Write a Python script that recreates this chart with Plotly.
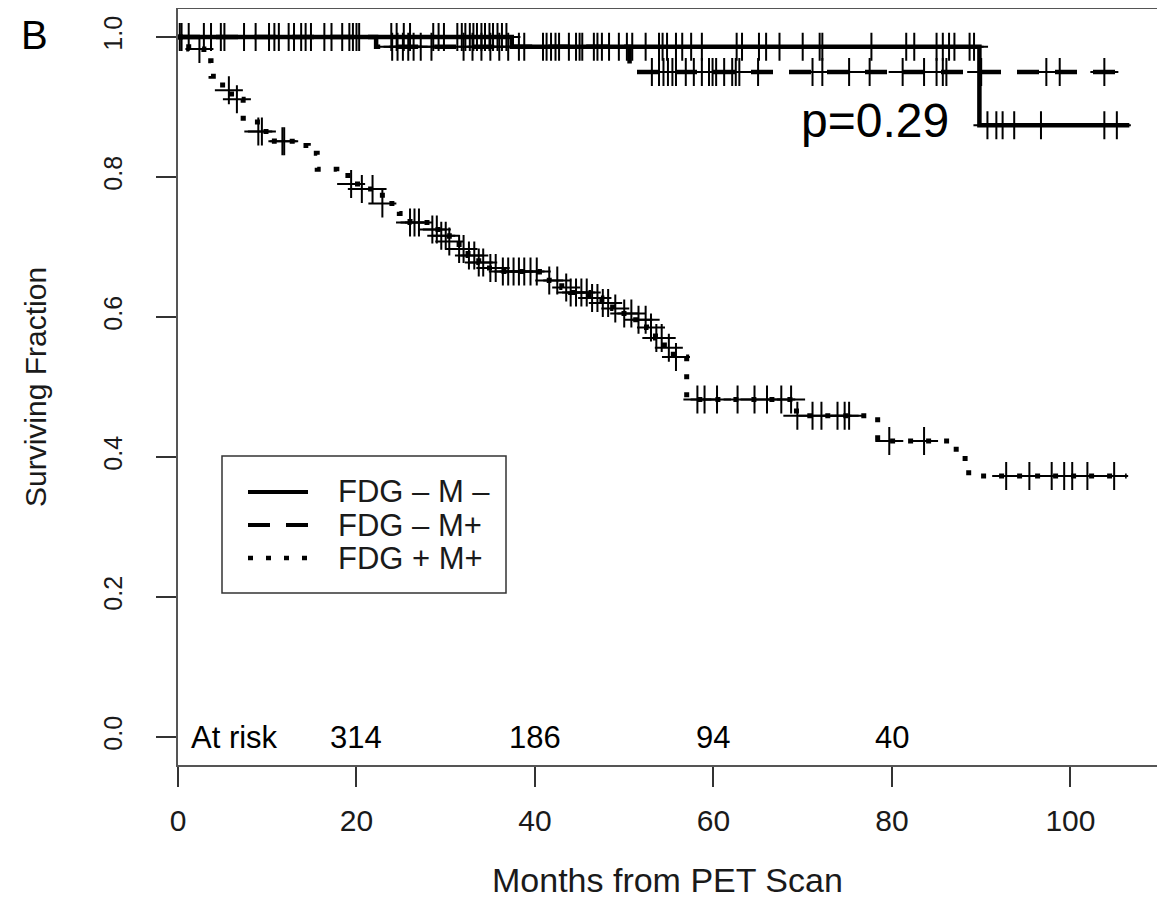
import numpy as np
import plotly.graph_objects as go

# ---------------- data ----------------
# FDG - M -  (solid)
nn_times = [0, 37.4, 89.8]
nn_surv = [1.0, 0.986, 0.874]
nn_end = 106.6
nn_censor = [0.2, 0.4, 1.2, 2.9, 3.7, 4.8, 5.2, 7.4, 8.7, 10.2, 10.8, 11.3, 12.4, 13.0,
             13.8, 14.3, 14.9, 16.4, 17.2, 18.4, 19.2, 19.6, 20.0, 20.3, 23.9, 24.5, 25.3,
             26.0, 28.6, 29.2, 29.8, 31.3, 31.8, 32.2, 32.7, 33.1, 33.5, 34.0, 34.4, 34.9,
             35.3, 35.8, 36.3, 36.8, 38.2, 38.8, 40.9, 41.3, 41.8, 42.3, 42.7, 43.8, 44.6,
             45.0, 45.3, 46.6, 47.0, 47.5, 48.3, 49.4, 50.3, 50.9, 52.4, 53.9, 54.3, 54.8,
             55.8, 56.5, 57.5, 58.7, 62.6, 63.2, 65.1, 65.9, 67.4, 70.0, 71.9, 72.2, 77.7,
             81.6, 82.5, 85.0, 85.7, 86.4, 87.0, 88.7, 89.2, 90.7, 91.7, 92.4, 93.7, 96.7,
             103.8, 105.2]

# FDG - M+  (dashed)
np_times = [0, 22.2, 50.6]
np_surv = [1.0, 0.986, 0.950]
np_end = 105.2
np_censor = [24.0, 24.6, 25.2, 25.8, 26.4, 27.2, 28.4, 32.0, 33.0, 34.0, 35.0, 36.0, 37.0,
             53.1, 53.9, 54.4, 54.9, 55.4, 55.8, 56.9, 57.8, 58.7, 59.5, 59.9, 60.3, 61.2,
             62.1, 62.5, 62.9, 65.0, 71.1, 72.2, 75.2, 77.5, 81.2, 83.6, 85.0, 85.7, 86.1,
             90.0, 97.3, 98.8, 103.8]

# FDG + M+  (dotted)
pp_times = [0, 1.2, 2.9, 3.7, 5.0, 6.0, 7.3, 8.9, 10.8, 12.8, 14.6, 15.6, 17.8, 19.4, 20.6,
            22.9, 24.8, 26.0, 28.5, 29.5, 30.4, 31.5, 32.5, 33.7, 34.5, 36.0, 40.5, 41.6,
            43.0, 44.0, 46.0, 47.5, 48.7, 49.5, 51.0, 52.5, 53.5, 54.5, 55.5, 57.0, 69.3,
            78.4, 87.2, 88.6]
pp_surv = [1.0, 0.983, 0.966, 0.944, 0.924, 0.911, 0.884, 0.865, 0.851, 0.845, 0.834, 0.811,
           0.802, 0.790, 0.783, 0.762, 0.748, 0.735, 0.725, 0.716, 0.708, 0.697, 0.688, 0.678,
           0.670, 0.665, 0.658, 0.652, 0.642, 0.635, 0.627, 0.620, 0.612, 0.605, 0.596, 0.585,
           0.570, 0.556, 0.543, 0.482, 0.459, 0.423, 0.398, 0.373]
pp_end = 106.3
pp_censor = [2.4, 5.7, 6.6, 9.0, 9.4, 11.7, 11.9, 19.4, 20.6, 21.8, 22.9, 26.0, 26.5, 27.0,
             28.5, 29.0, 29.5, 30.0, 30.4, 31.5, 32.0, 32.6, 33.2, 33.7, 34.2, 35.0, 35.6,
             36.4, 37.0, 37.6, 38.2, 38.8, 39.5, 40.2, 41.6, 42.5, 43.5, 44.0, 44.6, 45.2,
             45.8, 46.4, 47.0, 47.6, 48.2, 49.0, 50.0, 50.8, 51.6, 52.4, 53.0, 53.6, 54.2,
             55.0, 55.8, 58.2, 59.0, 60.4, 62.7, 64.6, 66.0, 67.6, 68.7, 69.4, 71.1, 72.1,
             73.9, 74.7, 75.2, 79.7, 83.6, 92.8, 95.4, 97.9, 99.3, 100.2, 101.9, 104.9]

group_names = ["FDG \u2013 M \u2013", "FDG \u2013 M+", "FDG + M+"]
risk_times = [20, 40, 60, 80]
risk_counts = [314, 186, 94, 40]
p_text = "p=0.29"

x_ticks = [0, 20, 40, 60, 80, 100]
y_ticks = [0.0, 0.2, 0.4, 0.6, 0.8, 1.0]

# ---------------- helpers ----------------
def step_xy(times, surv, end):
    return list(times) + [end], list(surv) + [surv[-1]]

def surv_at(times, surv, t):
    idx = np.searchsorted(np.array(times), np.array(t), side="right") - 1
    return [surv[i] for i in idx]

FONT = "Liberation Sans, Arial, Helvetica, sans-serif"
OFF = 8                       # page body margin
W, H = 1165 - OFF, 910 - OFF
SL, ST, SR, SB = 178, 9, 1157, 765   # plot box in screen pixels
ML, MT = SL - OFF, ST - OFF
MR, MB = (OFF + W) - SR, (OFF + H) - SB

styles = [
    dict(dash="solid", width=4.5),
    dict(dash="22px,16px", width=4.5),
    dict(dash="5px,13px", width=5),
]

fig = go.Figure()
curves = [(nn_times, nn_surv, nn_end, nn_censor),
          (np_times, np_surv, np_end, np_censor),
          (pp_times, pp_surv, pp_end, pp_censor)]
for (times, surv, end, cens), st, name in zip(curves, styles, group_names):
    sx, sy = step_xy(times, surv, end)
    fig.add_trace(go.Scatter(x=sx, y=sy, mode="lines", line_shape="hv", name=name,
                             line=dict(color="black", width=st["width"], dash=st["dash"]),
                             showlegend=False, hoverinfo="skip"))
    fig.add_trace(go.Scatter(x=cens, y=surv_at(times, surv, cens), mode="markers",
                             marker=dict(symbol="cross-thin", size=20, color="black",
                                         line=dict(color="black", width=2)),
                             showlegend=False, hoverinfo="skip"))

# ---------------- layout ----------------
fig.update_layout(
    width=W, height=H,
    margin=dict(l=ML, r=MR, t=MT, b=MB, pad=0, autoexpand=False),
    paper_bgcolor="white", plot_bgcolor="white",
    font=dict(family=FONT, color="#1a1a1a"),
    showlegend=False,
)
fig.update_xaxes(range=[0, 109.7], showgrid=False, zeroline=False, automargin=False,
                 showline=True, mirror=True, linecolor="#555", linewidth=2,
                 ticks="outside", ticklen=20, tickwidth=1.5, tickcolor="#333",
                 tickvals=x_ticks, ticktext=[str(v) for v in x_ticks],
                 tickfont=dict(size=30, family=FONT), ticklabelstandoff=8)
fig.update_yaxes(range=[-0.04, 1.04], showgrid=False, zeroline=False, automargin=False,
                 showline=True, mirror=True, linecolor="#555", linewidth=2,
                 ticks="outside", ticklen=20, tickwidth=1.5, tickcolor="#333",
                 tickvals=y_ticks, ticktext=[f"{v:.1f}" for v in y_ticks],
                 tickangle=-90, tickfont=dict(size=25, family=FONT), ticklabelstandoff=24)

ann = []
# axis titles
ann.append(dict(text="Months from PET Scan", xref="paper", yref="paper", x=0.5, y=0,
                yshift=-(880 - SB), xanchor="center", yanchor="middle",
                showarrow=False, font=dict(size=34, family=FONT)))
ann.append(dict(text="Surviving Fraction", xref="paper", yref="paper", x=0, y=0.5,
                xshift=35 - SL, textangle=-90, xanchor="center", yanchor="middle",
                showarrow=False, font=dict(size=30, family=FONT)))
# panel label (kept fully inside the page)
ann.append(dict(text="B", xref="paper", yref="paper", x=0, y=1, xshift=34 - SL,
                yshift=ST - 35, xanchor="center", yanchor="middle", showarrow=False,
                font=dict(size=40, family=FONT, color="black")))
# p-value
ann.append(dict(text=p_text, x=78.1, y=0.881, xanchor="center", yanchor="middle",
                showarrow=False, font=dict(size=48, family=FONT, color="black")))
# at risk
ann.append(dict(text="At risk", x=1.2, y=0, xanchor="left", yanchor="middle",
                showarrow=False, font=dict(size=31, family=FONT, color="black")))
for t, n in zip(risk_times, risk_counts):
    ann.append(dict(text=str(n), x=t, y=0, xanchor="center", yanchor="middle",
                    showarrow=False, font=dict(size=31, family=FONT, color="black")))

# manual legend (screen pixel positions converted to paper coords)
pw, ph = SR - SL, SB - ST
def px(xp):
    return (xp - SL) / pw
def py(yp):
    return 1 - (yp - ST) / ph

shapes = [dict(type="rect", xref="paper", yref="paper", x0=px(222), x1=px(506),
               y0=py(593), y1=py(456), line=dict(color="#333", width=1.5))]
rows = [492, 525, 558]
for r, st, name in zip(rows, styles, group_names):
    shapes.append(dict(type="line", xref="paper", yref="paper", x0=px(248), x1=px(308),
                       y0=py(r), y1=py(r),
                       line=dict(color="black", width=st["width"] - 0.5, dash=st["dash"])))
    ann.append(dict(text=name, xref="paper", yref="paper", x=px(336), y=py(r),
                    xanchor="left", yanchor="middle", showarrow=False,
                    font=dict(size=31, family=FONT, color="#1a1a1a")))

fig.update_layout(annotations=ann, shapes=shapes)
fig.write_html("out.html")
